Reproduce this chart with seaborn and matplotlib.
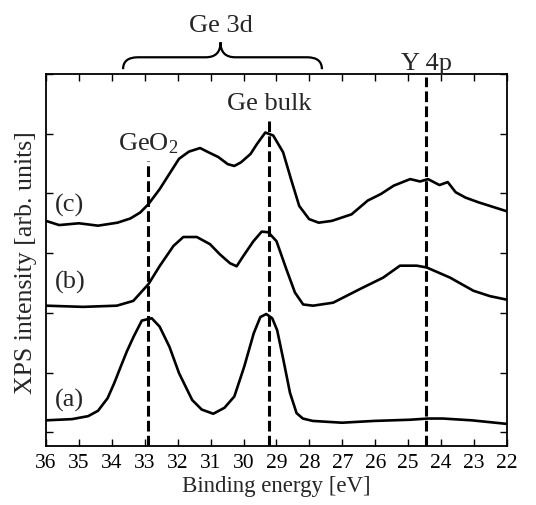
import numpy as np
import pandas as pd
import matplotlib
matplotlib.use("Agg")
import matplotlib.pyplot as plt
from matplotlib.path import Path
from matplotlib.patches import PathPatch
import seaborn as sns

# ---- data ----
energy_a = [36.0, 35.21, 34.72, 34.42, 34.13, 33.93, 33.73, 33.54, 33.34, 33.09, 32.94, 32.79,
            32.55, 32.25, 31.96, 31.56, 31.27, 30.92, 30.58, 30.28, 29.98, 29.69, 29.49, 29.31,
            29.13, 28.98, 28.79, 28.59, 28.39, 28.2, 27.9, 27.01, 26.03, 24.94, 24.4, 23.95,
            23.07, 22.0]
intens_a = [0.20, 0.22, 0.27, 0.36, 0.57, 0.82, 1.10, 1.36, 1.60, 1.87, 1.89, 1.91,
            1.77, 1.43, 0.99, 0.54, 0.38, 0.31, 0.41, 0.60, 1.10, 1.66, 1.93, 1.98,
            1.91, 1.71, 1.21, 0.66, 0.32, 0.23, 0.19, 0.16, 0.19, 0.21, 0.23, 0.23,
            0.20, 0.14]

energy_b = [36.0, 34.87, 33.85, 33.35, 32.89, 32.54, 32.13, 31.83, 31.42, 31.02, 30.72, 30.41,
            30.21, 30.01, 29.7, 29.45, 29.25, 29.0, 28.7, 28.44, 28.19, 27.89, 27.28, 26.46,
            25.76, 25.25, 24.74, 24.44, 23.73, 23.02, 22.52, 22.0]
intens_b = [2.12, 2.10, 2.12, 2.20, 2.48, 2.79, 3.12, 3.27, 3.27, 3.15, 2.98, 2.83,
            2.78, 2.95, 3.20, 3.36, 3.35, 3.20, 2.73, 2.34, 2.14, 2.12, 2.17, 2.40,
            2.59, 2.79, 2.79, 2.76, 2.59, 2.37, 2.28, 2.22]

energy_c = [36.0, 35.6, 35.0, 34.42, 33.83, 33.44, 33.14, 32.89, 32.55, 32.25, 31.96, 31.66,
            31.32, 31.07, 30.77, 30.48, 30.28, 30.08, 29.79, 29.59, 29.34, 29.1, 28.8, 28.56,
            28.31, 28.01, 27.72, 27.32, 26.72, 26.23, 25.83, 25.44, 24.94, 24.64, 24.4, 24.05,
            23.8, 23.56, 23.26, 22.86, 22.0]
intens_c = [3.54, 3.47, 3.50, 3.46, 3.51, 3.58, 3.68, 3.82, 4.07, 4.33, 4.58, 4.70,
            4.76, 4.69, 4.61, 4.49, 4.46, 4.52, 4.66, 4.83, 5.02, 4.97, 4.69, 4.24,
            3.79, 3.57, 3.51, 3.54, 3.65, 3.88, 3.99, 4.13, 4.24, 4.20, 4.24, 4.14,
            4.19, 4.02, 3.93, 3.85, 3.70]

curve_labels = ["(a)", "(b)", "(c)"]
label_y = [0.55, 2.53, 3.81]

peak_names = ["GeO$_2$", "Ge bulk", "Y 4p"]
peak_energy = [32.9, 29.22, 24.45]
peak_line_top = [4.54, 5.21, 5.95]
peak_text_y = [4.74, 5.41, 6.08]

x_ticks = list(range(22, 37))

# ---- styling ----
sns.set_style("ticks")
plt.rcParams['font.family'] = ['Liberation Serif', 'DejaVu Serif']
plt.rcParams['mathtext.fontset'] = 'custom'
plt.rcParams['mathtext.rm'] = 'Liberation Serif'
plt.rcParams['mathtext.it'] = 'Liberation Serif:italic'

fig = plt.figure(figsize=(5.36, 5.06), dpi=100)
ax = fig.add_axes([46/536, 59/506, 461/536, 372/506])

df = pd.concat([
    pd.DataFrame({"E": energy_a, "I": intens_a, "s": "a"}),
    pd.DataFrame({"E": energy_b, "I": intens_b, "s": "b"}),
    pd.DataFrame({"E": energy_c, "I": intens_c, "s": "c"}),
])
for s in ["a", "b", "c"]:
    sns.lineplot(data=df[df.s == s], x="E", y="I", color="black", lw=1.9, ax=ax,
                 legend=False, estimator=None, sort=False)

ax.set_xlim(36, 22)
ax.set_ylim(-0.23, 6.0)
ax.set_xticks(x_ticks)
ax.set_yticks(range(0, 7))
ax.set_yticklabels([])
ax.tick_params(direction="in", top=True, right=True, length=5, width=1,
               labelsize=15.5, colors="black", pad=5)
for sp in ax.spines.values():
    sp.set_linewidth(1.3)
    sp.set_color("black")

ax.set_xlabel("Binding energy [eV]", fontsize=16.5, labelpad=2)
ax.set_ylabel("XPS intensity [arb. units]", fontsize=18.6)
ax.yaxis.set_label_coords(-0.02, 0.496)

# dashed peak lines + labels
for name, e, top, ty in zip(peak_names, peak_energy, peak_line_top, peak_text_y):
    ax.plot([e, e], [-0.23, top], color="black", lw=2.2, ls=(0, (3.5, 1.4)))
    ax.text(e, ty, name, ha="center", va="baseline", fontsize=19, clip_on=False)

for lab, yy in zip(curve_labels, label_y):
    ax.text(35.73, yy, lab, ha="left", va="center", fontsize=19)

# brace for Ge 3d
x0, x1, xm = 33.66, 27.62, 30.7
yb, yh, yt = 6.08, 6.28, 6.53
verts = [(x0, yb), (x0, yh), (x0 - 0.45, yh),
         (xm + 0.45, yh),
         (xm, yh), (xm, yt),
         (xm, yh), (xm - 0.45, yh),
         (x1 + 0.45, yh),
         (x1, yh), (x1, yb)]
codes = [Path.MOVETO, Path.CURVE3, Path.CURVE3,
         Path.LINETO,
         Path.CURVE3, Path.CURVE3,
         Path.CURVE3, Path.CURVE3,
         Path.LINETO,
         Path.CURVE3, Path.CURVE3]
brace = PathPatch(Path(verts, codes), fill=False, lw=1.6, color="black",
                  transform=ax.transData, clip_on=False)
ax.add_patch(brace)
ax.text(xm, 6.72, "Ge 3d", ha="center", va="baseline", fontsize=19, clip_on=False)

fig.savefig("out.png", dpi=100)
